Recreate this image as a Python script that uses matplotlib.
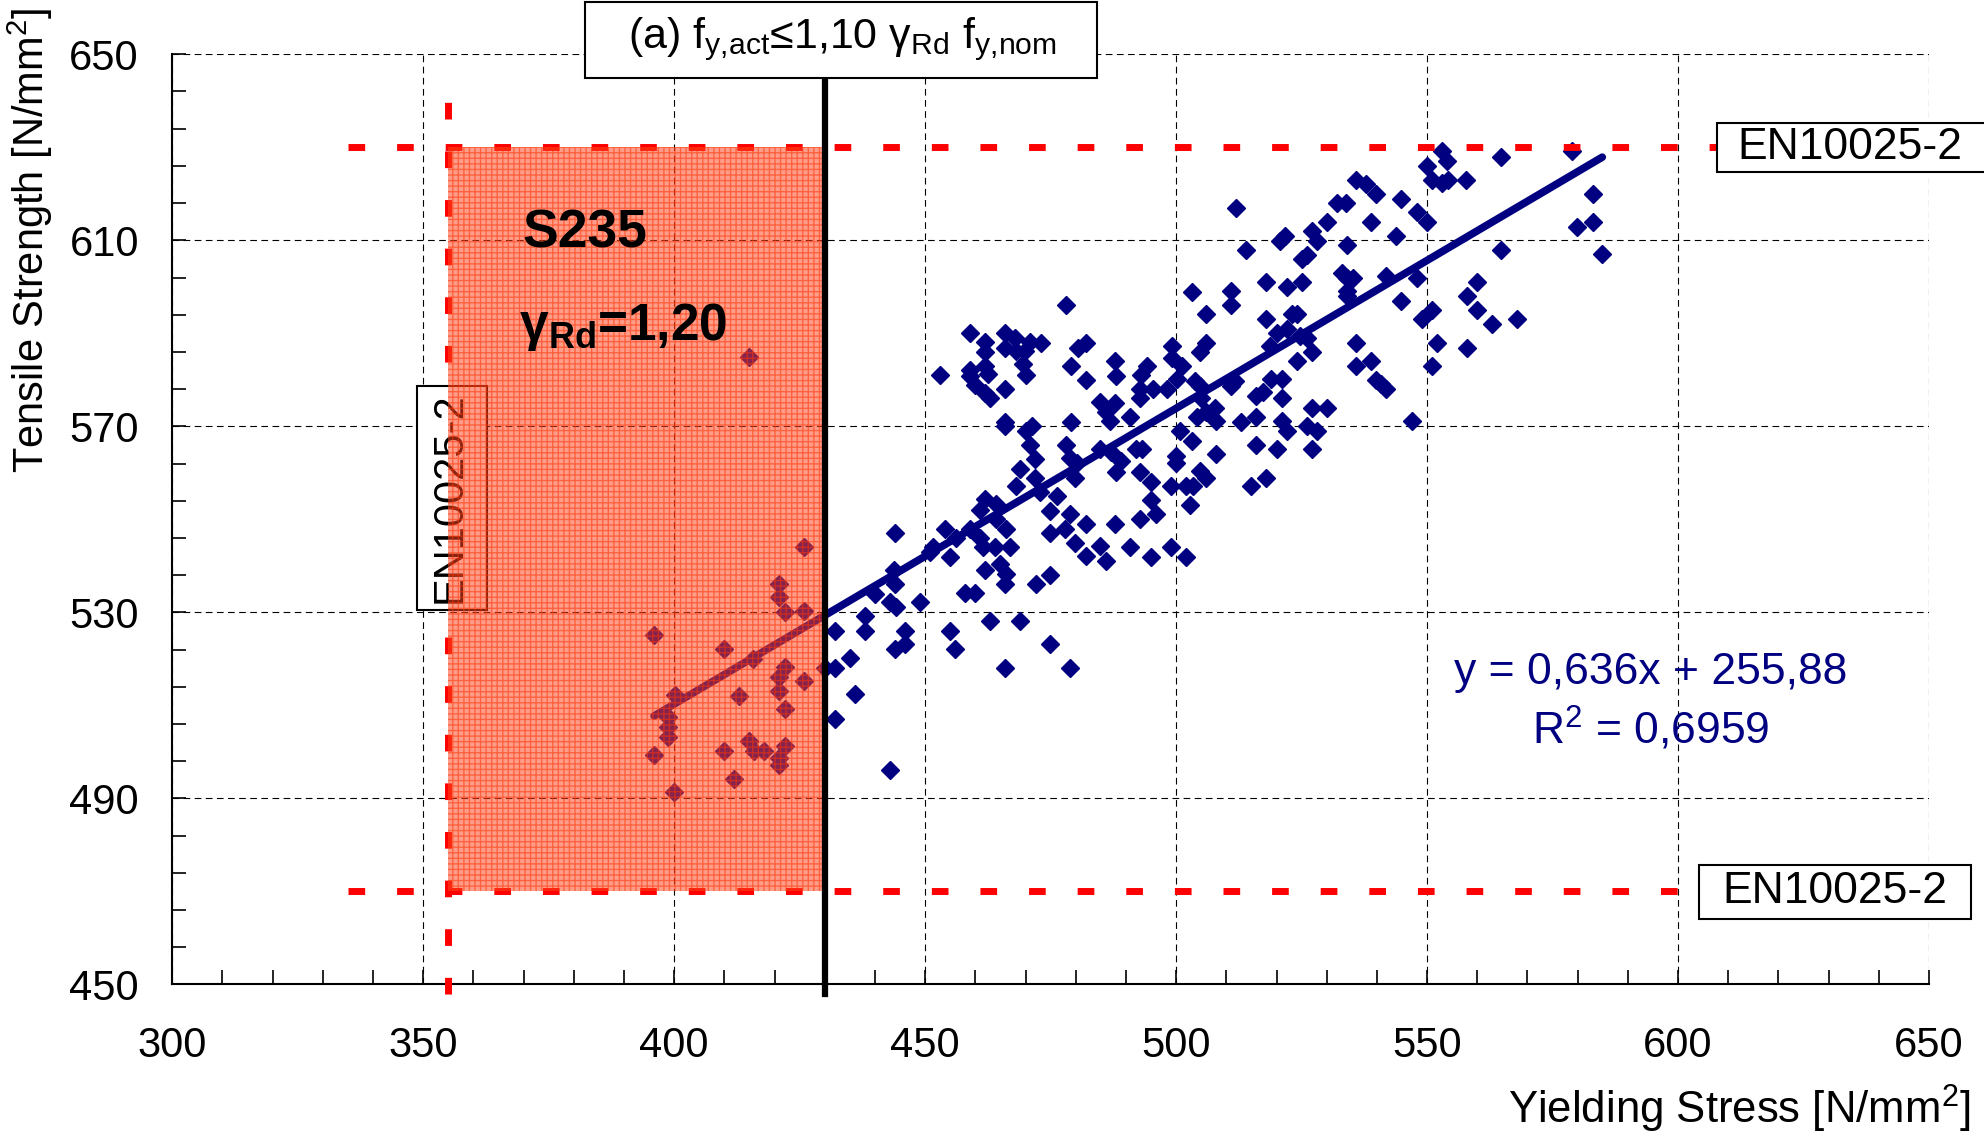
import matplotlib.pyplot as plt
import numpy as np
from matplotlib.patches import Rectangle

plt.rcParams['font.family'] = ['Liberation Sans', 'DejaVu Sans']
plt.rcParams['mathtext.default'] = 'regular'

# yielding stress / tensile strength, specimens below 1,10*gRd*fy,nom (x < 430)
fy_low = [414.9, 425.9, 420.9, 420.9, 422.1, 425.9, 396.0, 410.0, 415.7, 422.1,
          420.9, 425.9, 400.1, 412.9, 420.9, 422.1, 398.8, 398.8, 398.8, 396.0,
          410.0, 414.9, 415.9, 417.9, 422.1, 420.9, 420.9, 412.0, 399.9]
fu_low = [585.0, 544.0, 536.1, 533.3, 530.0, 530.2, 525.2, 522.2, 520.0, 518.2,
          516.1, 515.2, 512.3, 512.1, 513.2, 509.3, 507.5, 505.4, 503.2, 499.3,
          500.1, 502.3, 500.1, 500.1, 501.3, 498.6, 497.1, 494.1, 491.3]

# specimens with fy between 430 and 489
fy_mid = [478.0, 458.9, 465.9, 467.9, 461.9, 470.9, 473.0, 480.5, 482.1, 461.9,
          465.9, 468.2, 469.9, 452.9, 458.9, 458.9, 461.9, 462.6, 469.5, 470.1,
          459.9, 461.9, 462.9, 465.9, 479.0, 482.0, 487.8, 488.1, 465.9, 465.9,
          470.1, 471.2, 479.0, 484.8, 487.8, 486.1, 486.8, 470.9, 478.0, 471.9,
          468.9, 478.8, 480.2, 484.8, 487.1, 488.1, 479.8, 471.9, 468.1, 472.8,
          476.2, 474.8, 461.9, 464.2, 460.9, 464.1, 466.1, 458.9, 453.9, 456.2,
          444.0, 460.9, 461.6, 463.9, 466.9, 478.8, 482.1, 477.8, 474.8, 487.8,
          479.8, 484.8, 482.0, 486.0, 451.6, 450.9, 454.9, 464.9, 466.2, 461.9,
          465.9, 472.1, 474.8, 443.8, 444.0, 440.0, 443.0, 444.2, 448.9, 457.9,
          459.9, 438.0, 462.9, 468.9, 432.0, 438.0, 446.0, 454.9, 444.0, 446.0,
          455.9, 474.8, 435.0, 430.0, 432.0, 465.9, 478.8, 436.0, 432.0, 443.0]
fu_mid = [596.0, 590.0, 590.1, 589.0, 588.1, 588.1, 588.0, 586.9, 588.0, 586.0,
          586.9, 586.2, 586.2, 581.0, 582.1, 580.8, 583.0, 581.2, 583.3, 581.0,
          578.8, 577.2, 576.2, 578.0, 583.0, 580.0, 584.0, 580.8, 571.0, 570.0,
          569.0, 570.1, 571.0, 575.3, 575.1, 573.0, 571.2, 566.0, 566.0, 562.9,
          560.9, 563.3, 562.2, 565.1, 564.4, 560.1, 559.0, 559.0, 557.1, 555.8,
          555.1, 551.9, 554.4, 553.3, 552.1, 550.1, 547.9, 547.9, 547.9, 546.1,
          547.0, 546.1, 544.0, 544.0, 544.0, 551.1, 549.0, 547.9, 547.0, 549.0,
          545.0, 544.2, 542.1, 541.1, 544.0, 542.9, 542.0, 540.4, 538.3, 539.2,
          536.1, 536.1, 538.0, 539.2, 536.1, 534.0, 532.2, 531.1, 532.2, 534.2,
          534.2, 529.2, 528.2, 528.2, 526.1, 526.1, 526.1, 526.1, 522.2, 523.2,
          522.2, 523.2, 520.2, 518.0, 518.0, 518.0, 518.0, 512.5, 507.1, 496.2]

# specimens with fy above 489
fy_high = [552.9, 553.9, 564.8, 578.8, 549.9, 550.9, 552.9, 554.2, 557.8, 535.9,
           537.9, 539.9, 544.9, 547.9, 549.9, 532.0, 533.9, 530.0, 538.9, 543.9,
           583.0, 579.9, 583.0, 584.9, 564.8, 512.0, 521.7, 520.7, 527.0, 528.0,
           514.0, 534.0, 526.0, 525.0, 518.0, 522.0, 525.0, 533.0, 534.0, 535.3,
           534.0, 534.0, 541.9, 547.9, 544.9, 560.0, 558.0, 560.0, 563.0, 567.9,
           550.9, 548.9, 552.0, 558.0, 550.9, 535.9, 535.9, 538.9, 539.9, 540.9,
           541.9, 546.9, 503.1, 510.9, 510.9, 505.9, 518.0, 523.0, 524.0, 520.0,
           522.0, 524.6, 526.0, 518.7, 524.0, 527.0, 499.1, 499.1, 506.0, 504.7,
           501.1, 493.1, 494.1, 492.8, 495.4, 498.1, 500.1, 503.7, 504.7, 492.9,
           490.9, 504.9, 507.7, 504.1, 506.0, 511.7, 511.0, 516.0, 517.3, 516.0,
           519.0, 521.0, 521.0, 527.0, 530.0,
           508.0, 513.0, 521.0, 522.0, 526.0, 528.0, 500.7, 503.1, 499.9, 499.9,
           508.0, 504.7, 506.0, 492.9, 494.9, 498.9, 502.0, 503.3, 494.9, 496.0,
           492.9, 502.7, 498.9, 502.0, 494.9, 490.9, 516.0, 520.0, 527.0, 515.0,
           518.0, 489.0, 492.0, 493.3]
fu_high = [629.1, 627.0, 628.0, 629.1, 626.0, 623.0, 622.3, 623.0, 623.0, 623.0,
           622.0, 620.0, 618.9, 616.0, 613.9, 618.0, 618.0, 613.9, 613.9, 610.9,
           620.0, 612.9, 613.9, 607.0, 608.0, 616.9, 610.9, 609.8, 611.9, 609.8,
           608.0, 608.9, 606.9, 605.9, 601.0, 600.0, 601.0, 602.9, 601.9, 601.9,
           599.1, 598.0, 602.3, 601.9, 597.0, 601.0, 598.0, 595.0, 592.1, 593.0,
           595.0, 593.0, 588.0, 586.9, 583.0, 588.0, 583.0, 584.0, 580.0, 579.0,
           578.0, 571.2, 598.9, 599.1, 596.0, 594.1, 593.0, 594.1, 594.1, 590.1,
           591.0, 589.4, 589.0, 587.3, 584.0, 586.0, 587.3, 584.8, 588.0, 586.0,
           583.0, 581.0, 583.0, 578.0, 578.0, 578.0, 580.1, 579.8, 578.7, 576.0,
           572.1, 576.0, 574.0, 572.1, 573.0, 579.8, 578.7, 576.5, 577.3, 572.1,
           580.1, 580.1, 576.0, 574.0, 574.0,
           571.2, 570.9, 571.2, 569.0, 570.1, 569.0, 569.0, 566.9, 563.6, 562.2,
           564.0, 560.4, 559.0, 560.1, 558.1, 557.1, 557.1, 557.1, 554.2, 551.1,
           550.1, 553.1, 544.1, 542.0, 542.0, 544.1, 566.0, 565.1, 565.1, 557.1,
           559.0, 562.5, 565.1, 565.1]

# linear trend given on the chart
slope = 0.636
intercept = 255.88

# EN10025-2 limits for S235 and the 1,10*gRd*fy,nom limit
fy_nom_limit = 355
fu_min = 470
fu_max = 630
fy_act_limit = 430

navy = '#000080'

fig = plt.figure(figsize=(19.84, 11.35), dpi=100)
ax = fig.add_axes([0.0868, 0.1326, 0.8855, 0.8196])

fy_all = np.array(fy_low + fy_mid + fy_high)
fu_all = np.array(fu_low + fu_mid + fu_high)

ax.plot(fy_all, fu_all, ls='none', marker='D', ms=9, color=navy, mec=navy, zorder=2)

xfit = np.array([fy_all.min(), fy_all.max()])
ax.plot(xfit, slope * xfit + intercept, color=navy, lw=5.5, zorder=3, solid_capstyle='round')

# red EN10025-2 limit lines
red_style = dict(color='red', lw=5, dashes=(2.4, 4.6), zorder=3.5, clip_on=False)
ax.plot([335, 620], [fu_max, fu_max], **red_style)
ax.plot([335, 620], [fu_min, fu_min], **red_style)
ax.plot([fy_nom_limit, fy_nom_limit], [448, 643.7], **red_style)


def label_box(x0, x1, y0, y1, z):
    ax.add_patch(Rectangle((x0, y0), x1 - x0, y1 - y0, facecolor='white', edgecolor='black',
                           lw=1.5, zorder=z, clip_on=False))


label_box(348.7, 362.7, 530.6, 578.7, 3.8)
ax.text(355.2, 554.6, 'EN10025-2', rotation=90, ha='center', va='center', fontsize=30, zorder=3.9)

# S235 region overlay
ax.add_patch(Rectangle((fy_nom_limit, fu_min), fy_act_limit - fy_nom_limit, fu_max - fu_min,
                       facecolor='#FF4422', alpha=0.52, lw=0, zorder=4))
ax.add_patch(Rectangle((fy_nom_limit, fu_min), fy_act_limit - fy_nom_limit, fu_max - fu_min,
                       facecolor='none', edgecolor=(1, 0.2, 0, 0.55), hatch='+++', lw=0, zorder=4.1))

ax.plot([fy_act_limit, fy_act_limit], [448, 650], color='black', lw=4.5, zorder=5, clip_on=False)

label_box(382.3, 484.3, 644.9, 661.2, 6)
ax.text(433.5, 653.2, r'(a) f$_{y{,}act}$≤1,10 γ$_{Rd}$ f$_{y{,}nom}$', ha='center', va='center',
        fontsize=31, zorder=6.1, clip_on=False)

label_box(607.7, 662, 624.6, 635.3, 6)
ax.text(634.2, 629.9, 'EN10025-2', ha='center', va='center', fontsize=32, zorder=6.1, clip_on=False)
label_box(604.1, 658.3, 464.0, 475.7, 6)
ax.text(631.2, 469.9, 'EN10025-2', ha='center', va='center', fontsize=32, zorder=6.1, clip_on=False)

ax.text(369.7, 608.5, 'S235', fontsize=38.5, fontweight='bold', zorder=6)
ax.text(369, 588.5, r'γ$_{Rd}$=1,20', fontsize=37, fontweight='bold', zorder=6)

ax.text(594.5, 517, 'y = 0,636x + 255,88', ha='center', va='center', fontsize=32, color=navy)
ax.text(594.5, 504.8, r'R$^2$ = 0,6959', ha='center', va='center', fontsize=32, color=navy)

ax.set_xlim(300, 650)
ax.set_ylim(450, 650)
ax.set_xticks(np.arange(300, 651, 50))
ax.set_yticks(np.arange(450, 651, 40))
ax.set_xticks(np.arange(300, 651, 10), minor=True)
ax.set_yticks(np.arange(450, 651, 8), minor=True)
ax.tick_params(which='both', direction='in', width=1.2, length=10, labelsize=30)
ax.tick_params(axis='x', pad=30)
ax.tick_params(axis='y', pad=24)

ax.grid(True, which='major', color='black', lw=0.8, dashes=(6, 4), zorder=0.5)
ax.set_axisbelow(True)
for s in ['top', 'right']:
    ax.spines[s].set_visible(False)
for s in ['left', 'bottom']:
    ax.spines[s].set_linewidth(1.5)

ax.set_xlabel('Yielding Stress [N/mm$^2$]', fontsize=31.5)
ax.xaxis.set_label_coords(0.892, -0.106)
ax.set_ylabel('Tensile Strength [N/mm$^2$]', fontsize=30)
ax.yaxis.set_label_coords(-0.067, 0.80)

fig.savefig('out.png', dpi=100)
